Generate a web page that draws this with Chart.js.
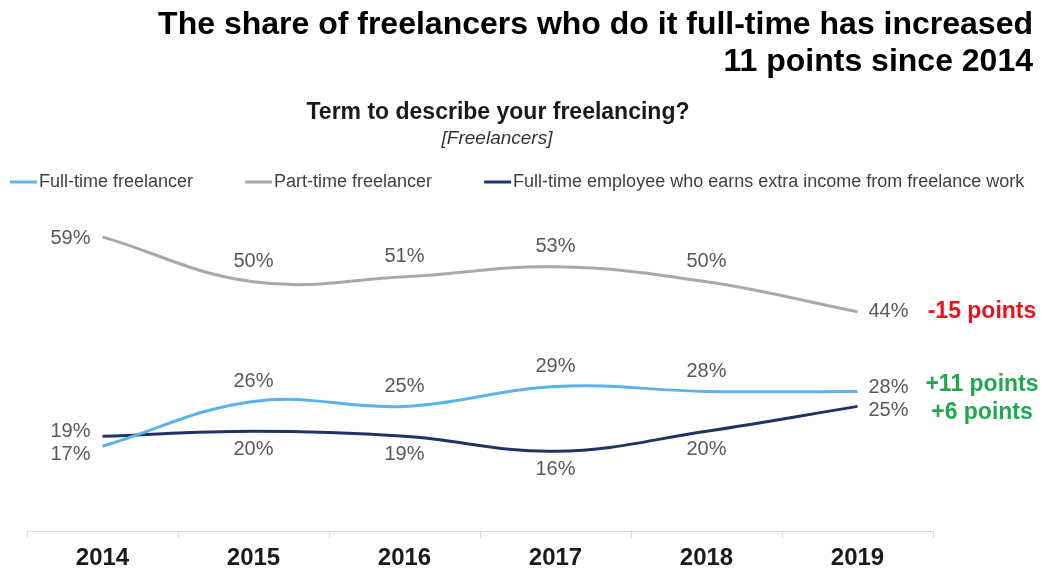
<!DOCTYPE html>
<html>
<head>
<meta charset="utf-8">
<script src="https://cdn.jsdelivr.net/npm/chart.js@4.4.0/dist/chart.umd.min.js"></script>
<style>
html, body { margin: 0; padding: 0; background: #fff; }
#wrap { position: relative; width: 1053px; height: 571px; }
</style>
</head>
<body>
<div id="wrap"><canvas id="chartFreelance"></canvas></div>
<script>
const years = ['2014', '2015', '2016', '2017', '2018', '2019'];
const fullTime = [17, 26, 25, 29, 28, 28];
const partTime = [59, 50, 51, 53, 50, 44];
const employee = [19, 20, 19, 16, 20, 25];
const seriesNames = [
    'Full-time freelancer',
    'Part-time freelancer',
    'Full-time employee who earns extra income from freelance work'
];
const titleLines = ['The share of freelancers who do it full-time has increased', '11 points since 2014'];
const questionText = 'Term to describe your freelancing?';
const baseText = '[Freelancers]';

const FONT = '"Liberation Sans", Arial, sans-serif';

// spreads labels on one side so they don't overlap
function spread(list, minGap) {
    list.sort((a, b) => a.y - b.y);
    for (let k = 1; k < list.length; k++) {
        let gap = list[k].y - list[k - 1].y;
        if (gap < minGap) {
            let push = (minGap - gap) / 2;
            list[k - 1].y -= push;
            list[k].y += push;
        }
    }
}

// draws % labels at points, the change in points at the right, titles and legend
const textPlugin = {
    id: 'textPlugin',
    afterDatasetsDraw(chart) {
        let ctx = chart.ctx;
        let sides = { left: [], right: [] };
        let items = [];
        chart.data.datasets.forEach((ds, di) => {
            let meta = chart.getDatasetMeta(di);
            meta.data.forEach((pt, i) => {
                let where = ds.labelAt[i];
                let item = { text: ds.data[i] + '%', x: pt.x, y: pt.y, where: where, di: di };
                if (where === 'above') item.y = pt.y - 20;
                else if (where === 'below') item.y = pt.y + 18;
                else sides[where].push(item);
                items.push(item);
            });
        });
        spread(sides.left, 23);
        spread(sides.right, 23);

        ctx.save();
        ctx.font = '20px ' + FONT;
        ctx.fillStyle = '#595959';
        ctx.textBaseline = 'middle';
        items.forEach(it => {
            if (it.where === 'left') {
                ctx.textAlign = 'right';
                ctx.fillText(it.text, it.x - 12, it.y + 2);
            } else if (it.where === 'right') {
                ctx.textAlign = 'left';
                ctx.fillText(it.text, it.x + 11, it.y);
            } else {
                ctx.textAlign = 'center';
                ctx.fillText(it.text, it.x, it.y);
            }
        });

        // change since first year
        let notes = sides.right.map(it => ({ y: it.y, di: it.di }));
        spread(notes, 28);
        ctx.font = 'bold 23px ' + FONT;
        ctx.textAlign = 'center';
        notes.forEach(n => {
            let data = chart.data.datasets[n.di].data;
            let diff = data[data.length - 1] - data[0];
            ctx.fillStyle = diff < 0 ? '#e8141c' : '#1fa84c';
            ctx.fillText((diff > 0 ? '+' : '') + diff + ' points', 982, n.y);
        });
        ctx.restore();
    },
    afterDraw(chart) {
        let ctx = chart.ctx;
        ctx.save();
        ctx.textBaseline = 'middle';

        ctx.fillStyle = '#000';
        ctx.font = 'bold 32px ' + FONT;
        ctx.textAlign = 'right';
        ctx.fillText(titleLines[0], 1033, 25);
        ctx.fillText(titleLines[1], 1033, 62);

        ctx.textAlign = 'center';
        ctx.fillStyle = '#1a1a1a';
        ctx.font = 'bold 23px ' + FONT;
        ctx.fillText(questionText, 498, 113);
        ctx.fillStyle = '#333';
        ctx.font = 'italic 19px ' + FONT;
        ctx.fillText(baseText, 497, 139);

        // legend
        ctx.textAlign = 'left';
        ctx.font = '18px ' + FONT;
        let x = 10;
        chart.data.datasets.forEach(ds => {
            ctx.strokeStyle = ds.borderColor;
            ctx.lineWidth = 3;
            ctx.beginPath();
            ctx.moveTo(x, 182);
            ctx.lineTo(x + 27, 182);
            ctx.stroke();
            ctx.fillStyle = '#404040';
            ctx.fillText(ds.label, x + 29, 182);
            x += 29 + ctx.measureText(ds.label).width + 52;
        });
        ctx.restore();
    }
};

let contextFreelance = document.querySelector('#chartFreelance').getContext('2d');

let config = {
    type: 'line',
    data: {
        labels: years,
        datasets: [{
            label: seriesNames[0],
            data: fullTime,
            borderColor: '#5cb3ea',
            labelAt: ['left', 'above', 'above', 'above', 'above', 'right']
        }, {
            label: seriesNames[1],
            data: partTime,
            borderColor: '#a9a9a9',
            labelAt: ['left', 'above', 'above', 'above', 'above', 'right']
        }, {
            label: seriesNames[2],
            data: employee,
            borderColor: '#1f3464',
            labelAt: ['left', 'below', 'below', 'below', 'below', 'right']
        }]
    },
    options: {
        responsive: true,
        maintainAspectRatio: false,
        animation: false,
        datasets: {
            line: {
                borderWidth: 3,
                tension: 0.4,
                pointRadius: 0,
                pointHoverRadius: 0,
                fill: false
            }
        },
        layout: {
            padding: { top: 207, left: 27, right: 120, bottom: -7 }
        },
        plugins: {
            legend: { display: false },
            tooltip: { enabled: false }
        },
        scales: {
            x: {
                offset: true,
                grid: {
                    offset: true,
                    drawOnChartArea: false,
                    tickLength: 7,
                    color: '#d9d9d9'
                },
                border: { color: '#d9d9d9', width: 1 },
                ticks: {
                    color: '#1a1a1a',
                    padding: 8,
                    font: { family: FONT, size: 24, weight: 'bold', lineHeight: 1 }
                }
            },
            y: {
                display: false,
                min: 0,
                max: 65
            }
        }
    },
    plugins: [textPlugin]
};

let chartFreelance = new Chart(contextFreelance, config);
</script>
</body>
</html>
